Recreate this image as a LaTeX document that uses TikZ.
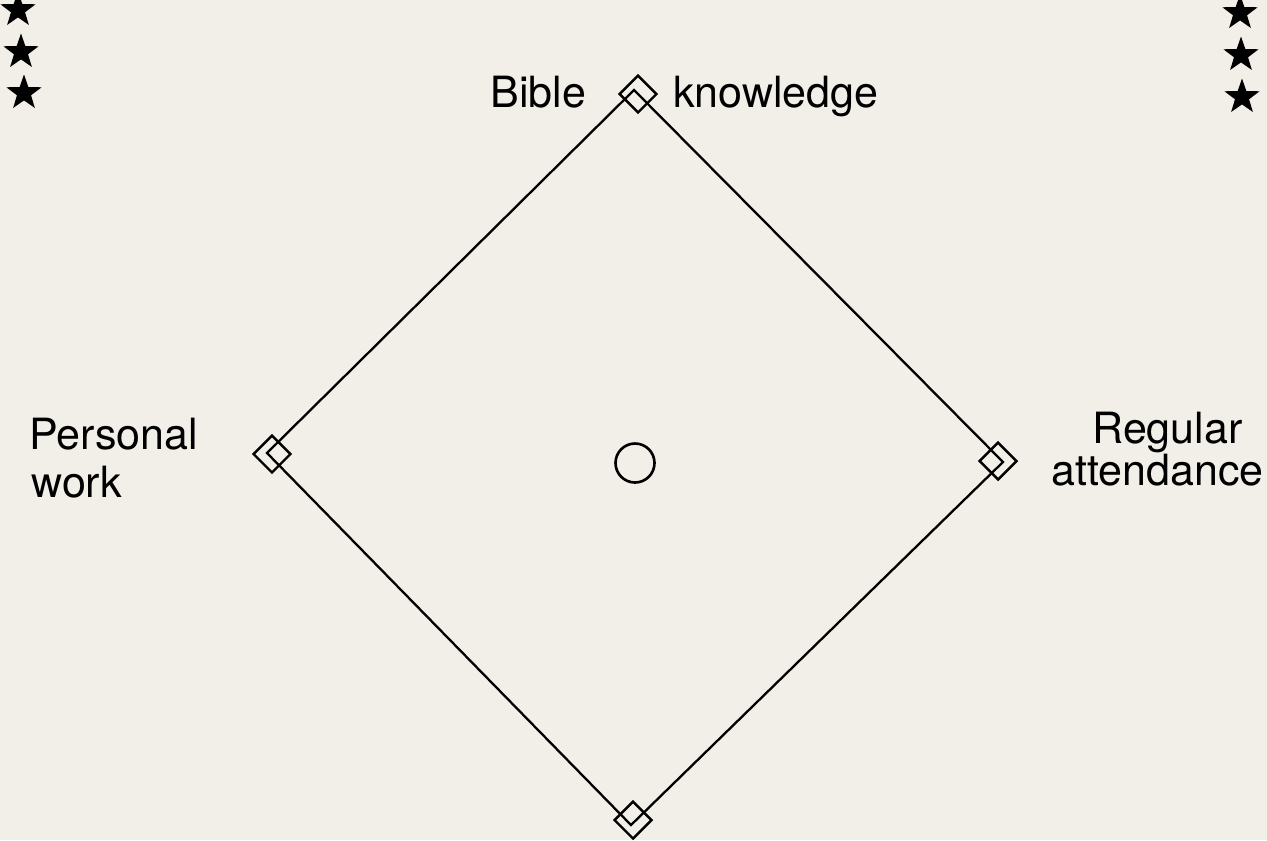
\documentclass[tikz,border=0pt]{standalone}
\usepackage{fontspec}
\setmainfont{TeX Gyre Heros}
\usetikzlibrary{shapes.geometric}
\definecolor{paper}{RGB}{241,239,232}

\tikzset{
  base/.style ={diamond, draw=black, line width=1.4pt, minimum width=0.76cm,
    minimum height=0.76cm, inner sep=0pt},
  starmark/.style={star, star points=5, star point ratio=2.5, fill=black,
    minimum size=0.74cm, inner sep=0pt},
  caption/.style={font=\fontsize{24.5}{30}\selectfont, inner sep=0pt},
}

\begin{document}
\begin{tikzpicture}[x=0.02cm, y=-0.02cm]
  \fill[paper] (0, 0) rectangle (1267, 840);
  \useasboundingbox (0, 0) rectangle (1267, 840);
  % corners of the diamond
  \coordinate (kTop) at (634, 90);
  \coordinate (kLeft) at (267, 453);
  \coordinate (kRight) at (1003, 462);
  \coordinate (kBot) at (631, 825);
  \draw[line width=1.3pt] (kTop) -- (kLeft) -- (kBot) -- (kRight) -- cycle;
  \node[base] (bTop) at (638, 94) {};
  \node[base] (bLeft) at (272, 454) {};
  \node[base] (bRight) at (998, 461) {};
  \node[base] (bBot) at (633, 820) {};
  \node[circle, draw=black, line width=1.5pt, minimum size=0.78cm, inner sep=0pt] (mound) at (635, 463) {};
  % labels
  \node[caption, anchor=base west] (bible) at (490, 107) {Bible};
  \node[caption, anchor=base west] (knowledge) at (673, 107) {knowledge};
  \node[caption, anchor=base west] (personal) at (29, 449) {Personal};
  \node[caption, anchor=base west] (work) at (31, 497) {work};
  \node[caption, anchor=base west] (regular) at (1092, 443) {Regular};
  \node[caption, anchor=base west] (attend) at (1051, 485) {attendance};
  % stars
  \foreach \i/\y in {1/10, 2/52, 3/93} {
    \node[starmark] (sL\i) at (15+3*\i, \y) {};
  }
  \foreach \i/\y in {1/13, 2/55, 3/97} {
    \node[starmark] (sR\i) at (1239+\i, \y) {};
  }
\end{tikzpicture}
\end{document}
